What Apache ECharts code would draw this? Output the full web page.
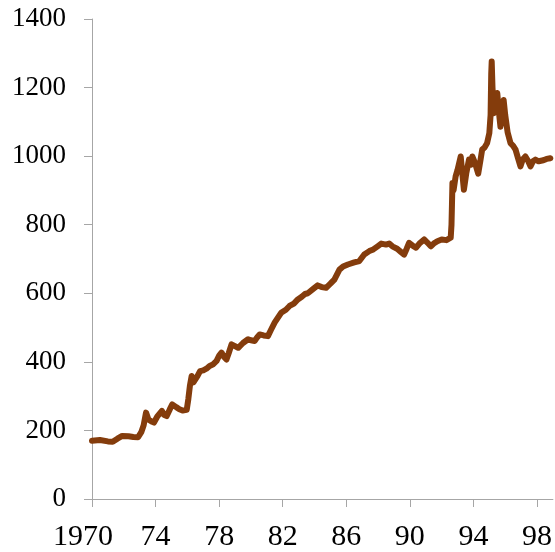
<!DOCTYPE html>
<html>
<head>
<meta charset="utf-8">
<script src="https://cdn.jsdelivr.net/npm/echarts@6/dist/echarts.min.js"></script>
<style>
html,body{margin:0;padding:0;background:#fff;}
#c{width:555px;height:552px;}
</style>
</head>
<body>
<div id="c"></div>
<script>
const years = [1970.0,1970.5,1971.0,1971.3,1971.6,1971.9,1972.3,1972.6,1972.9,1973.1,1973.25,1973.4,1973.55,1973.75,1973.9,1974.1,1974.4,1974.55,1974.7,1974.9,1975.05,1975.3,1975.5,1975.7,1975.96,1976.06,1976.16,1976.27,1976.38,1976.48,1976.65,1976.8,1977.0,1977.2,1977.4,1977.6,1977.84,1978.0,1978.15,1978.3,1978.46,1978.6,1978.78,1979.0,1979.2,1979.5,1979.82,1980.0,1980.24,1980.4,1980.55,1980.8,1981.07,1981.28,1981.5,1981.7,1981.9,1982.2,1982.43,1982.7,1982.95,1983.2,1983.4,1983.58,1983.9,1984.2,1984.45,1984.73,1985.0,1985.25,1985.57,1985.8,1986.1,1986.5,1986.82,1987.13,1987.45,1987.7,1987.97,1988.2,1988.5,1988.7,1988.9,1989.2,1989.45,1989.64,1989.8,1989.95,1990.2,1990.38,1990.6,1990.9,1991.1,1991.32,1991.5,1991.73,1992.0,1992.3,1992.57,1992.62,1992.65,1992.68,1992.75,1992.88,1993.0,1993.2,1993.3,1993.4,1993.55,1993.72,1993.85,1993.93,1994.1,1994.3,1994.45,1994.55,1994.7,1994.86,1995.0,1995.08,1995.12,1995.15,1995.2,1995.28,1995.4,1995.5,1995.6,1995.7,1995.8,1995.9,1996.0,1996.15,1996.33,1996.5,1996.65,1996.8,1996.96,1997.1,1997.27,1997.45,1997.59,1997.75,1997.9,1998.1,1998.4,1998.6,1998.84];
const values = [170,172,168,167,176,184,183,181,180,195,215,252,232,226,223,240,257,245,242,262,276,268,262,258,260,291,330,359,340,335,360,373,375,380,388,392,403,418,427,415,407,425,451,446,441,455,466,463,461,472,480,477,475,495,515,529,543,552,563,570,582,590,598,600,612,623,618,616,628,640,669,678,684,690,694,713,723,728,737,745,742,745,737,730,720,713,730,747,738,733,745,757,748,737,745,752,757,755,762,800,860,922,900,941,960,999,950,902,950,990,975,999,980,949,990,1019,1025,1038,1067,1120,1240,1276,1200,1125,1160,1184,1130,1086,1130,1164,1120,1070,1038,1030,1019,995,970,990,999,985,970,985,990,985,988,992,994];
const xTicks = [1970,1974,1978,1982,1986,1990,1994,1998];
const yTicks = [0,200,400,600,800,1000,1200,1400];

const data = years.map((y,i)=>[y, values[i]]);
const FONT = '"Liberation Serif","Times New Roman",serif';
const AX = '#a6a6a6';
const chart = echarts.init(document.getElementById('c'), null, {renderer:'canvas'});
chart.setOption({
  animation:false,
  grid:{left:92, right:1, top:19, bottom:52, containLabel:false},
  xAxis:{
    type:'value', min:1970, max:1999, interval:4,
    axisLine:{show:true, lineStyle:{color:AX, width:1}},
    axisTick:{show:true, length:8, lineStyle:{color:AX}, customValues:xTicks},
    splitLine:{show:false},
    axisLabel:{
      customValues:xTicks,
      fontFamily:FONT, fontSize:30, color:'#000', margin:23,
      formatter:function(v){ return v===1970 ? '{f|1970}' : String(v).slice(2); },
      rich:{f:{fontFamily:FONT, fontSize:30, color:'#000', padding:[0,18,0,0]}}
    }
  },
  yAxis:{
    type:'value', min:0, max:1400, interval:200,
    axisLine:{show:true, lineStyle:{color:AX, width:1}},
    axisTick:{show:true, length:8, lineStyle:{color:AX}, customValues:yTicks},
    splitLine:{show:false},
    axisLabel:{customValues:yTicks, fontFamily:FONT, fontSize:27, color:'#000', margin:26,
      formatter:function(v){ return String(v); }}
  },
  series:[{
    type:'line', data:data, showSymbol:false, symbol:'none',
    lineStyle:{color:'#843C0C', width:6, join:'round', cap:'round'},
    itemStyle:{color:'#843C0C'}
  }]
});
</script>
</body>
</html>
